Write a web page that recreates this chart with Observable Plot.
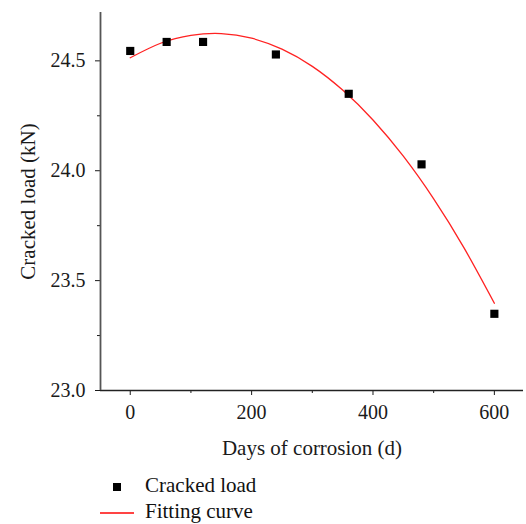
<!DOCTYPE html>
<html>
<head>
<meta charset="utf-8">
<script src="https://cdn.jsdelivr.net/npm/d3@7"></script>
<script src="https://cdn.jsdelivr.net/npm/@observablehq/plot@0.6"></script>
<style>
  body { margin: 0; background: #fff; font-family: "Liberation Serif", serif; }
  #wrap { position: relative; width: 526px; height: 524px; }
  .leg { position: absolute; font-size: 21px; color: #111; line-height: 1; white-space: nowrap; }
</style>
</head>
<body>
<div id="wrap">
  <div id="chart"></div>
</div>
<script>
// Measured cracked load (kN) vs days of corrosion
const days = [0, 60, 120, 240, 360, 480, 600];
const crackedLoad = [24.545, 24.586, 24.586, 24.529, 24.35, 24.029, 23.349];

// Fitting curve
const curveDays = [0, 50, 100, 150, 200, 250, 300, 350, 400, 450, 500, 550, 600];
const curveLoad = [24.514, 24.58, 24.616, 24.624, 24.603, 24.553, 24.475, 24.367, 24.231, 24.066, 23.872, 23.649, 23.397];

const xMajor = [0, 200, 400, 600];
const xMinor = [100, 300, 500];
const yMajor = [23.0, 23.5, 24.0, 24.5];
const yMinor = [23.25, 23.75, 24.25];

const points = days.map((d, i) => ({day: d, load: crackedLoad[i]}));
const curve = curveDays.map((d, i) => ({day: d, load: curveLoad[i]}));

const font = "Liberation Serif";
const chart = Plot.plot({
  width: 526,
  height: 466,
  marginLeft: 100,
  marginRight: 3,
  marginTop: 12,
  marginBottom: 76,
  style: {fontFamily: font, fontSize: "19px", color: "#1a1a1a", background: "#fff"},
  x: {domain: [-49, 648]},
  y: {domain: [23.0, 24.72]},
  marks: [
    Plot.axisX(xMajor, {tickSize: 5, tickPadding: 9, fontSize: 20, label: "Days of corrosion (d)", labelAnchor: "center", labelArrow: "none", labelOffset: 64}),
    Plot.axisX(xMinor, {tickSize: 3, text: null, label: null}),
    Plot.axisY(yMajor, {tickSize: 5, tickPadding: 10, fontSize: 20, tickFormat: d3.format(".1f"), label: "Cracked load (kN)", labelAnchor: "center", labelArrow: "none", labelOffset: 80}),
    Plot.axisY(yMinor, {tickSize: 3, text: null, label: null}),
    Plot.ruleY([23.0], {stroke: "#222", strokeWidth: 1.3}),
    Plot.ruleX([-49], {stroke: "#555", strokeWidth: 1.8}),
    Plot.line(curve, {x: "day", y: "load", curve: "natural", stroke: "#f22", strokeWidth: 1.3}),
    Plot.dot(points, {x: "day", y: "load", symbol: "square", r: 4.6, fill: "#000", stroke: "none"})
  ]
});
document.getElementById("chart").appendChild(chart);
chart.querySelectorAll("g[aria-label='x-axis label'] text, g[aria-label='y-axis label'] text").forEach(t => t.setAttribute("font-size", "21"));

// Legend below the chart
const wrap = document.getElementById("wrap");
const legendItems = [
  {label: "Cracked load", kind: "square", top: 487},
  {label: "Fitting curve", kind: "line", top: 513}
];
legendItems.forEach(it => {
  const sw = document.createElement("div");
  sw.style.position = "absolute";
  if (it.kind === "square") {
    Object.assign(sw.style, {left: "113px", top: (it.top - 4) + "px", width: "8px", height: "8px", background: "#000"});
  } else {
    Object.assign(sw.style, {left: "100px", top: (it.top - 1) + "px", width: "34px", height: "1.5px", background: "#f44"});
  }
  wrap.appendChild(sw);
  const tx = document.createElement("div");
  tx.className = "leg";
  tx.textContent = it.label;
  tx.style.left = "145px";
  tx.style.top = (it.top - 12) + "px";
  wrap.appendChild(tx);
});
</script>
</body>
</html>
